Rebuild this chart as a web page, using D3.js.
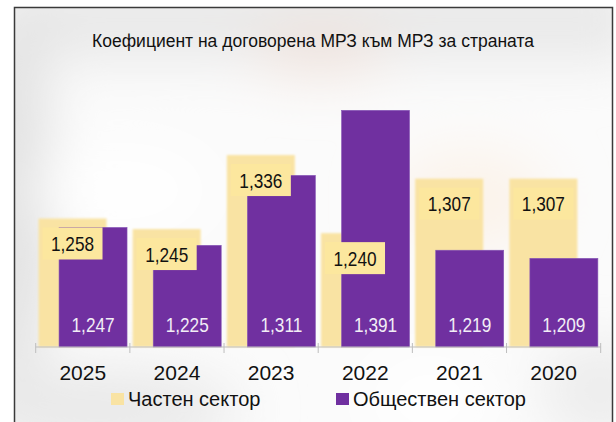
<!DOCTYPE html>
<html>
<head>
<meta charset="utf-8">
<script src="https://d3js.org/d3.v7.min.js"></script>
<style>
  html, body { margin: 0; padding: 0; background: #fff; }
  svg { display: block; }
</style>
</head>
<body>
<div id="chart"></div>
<script>
// chart data
var years = ["2025", "2024", "2023", "2022", "2021", "2020"];
var privateSector = [1258, 1245, 1336, 1240, 1307, 1307];
var publicSector = [1247, 1225, 1311, 1391, 1219, 1209];
var seriesNames = ["Частен сектор", "Обществен сектор"];
var title = "Коефициент на договорена МРЗ към МРЗ за страната";

var W = 616, H = 422;
var yellow = "#f9e3a3", yellowBox = "#fce79e", purple = "#7030a0";

// narrow font check
function hasFont(name) {
    var c = document.createElement("canvas").getContext("2d");
    c.font = "20px monospace";
    var a = c.measureText("1,258 abcdefg").width;
    c.font = "20px '" + name + "', monospace";
    var b = c.measureText("1,258 abcdefg").width;
    return a !== b;
}
var narrowOk = hasFont("Liberation Sans Narrow");
var narrowFamily = narrowOk ? "'Liberation Sans Narrow', 'Arial Narrow', sans-serif" : "'Liberation Sans', Arial, sans-serif";
var narrowScale = narrowOk ? 1 : 0.82;

var svg = d3.select("#chart").append("svg")
    .attr("width", W).attr("height", H);

var defs = svg.append("defs");
var bgBlur = defs.append("filter").attr("id", "bgblur")
    .attr("x", "-50%").attr("y", "-50%").attr("width", "200%").attr("height", "200%");
bgBlur.append("feGaussianBlur").attr("stdDeviation", 28);
var soft = defs.append("filter").attr("id", "soft")
    .attr("x", "-10%").attr("y", "-10%").attr("width", "120%").attr("height", "120%");
soft.append("feGaussianBlur").attr("stdDeviation", 1.3);

var clip = defs.append("clipPath").attr("id", "frameclip");
clip.append("rect").attr("x", 14).attr("y", 7.5).attr("width", 599).attr("height", H);

// blurred photo-like background
var bg = svg.append("g").attr("clip-path", "url(#frameclip)");
bg.append("rect").attr("x", 14).attr("y", 7.5).attr("width", 599).attr("height", H).attr("fill", "#fbfbfb");
var blobs = bg.append("g").attr("filter", "url(#bgblur)");
blobs.append("rect").attr("x", 0).attr("y", -20).attr("width", 640).attr("height", 80).attr("fill", "#e8e8e8");
blobs.append("ellipse").attr("cx", 10).attr("cy", 200).attr("rx", 40).attr("ry", 200).attr("fill", "#e0e0e0");
blobs.append("ellipse").attr("cx", 320).attr("cy", 50).attr("rx", 70).attr("ry", 25).attr("fill", "#efe2dc");
blobs.append("ellipse").attr("cx", 120).attr("cy", 190).attr("rx", 90).attr("ry", 40).attr("fill", "#ffffff");
blobs.append("ellipse").attr("cx", 470).attr("cy", 200).attr("rx", 80).attr("ry", 50).attr("fill", "#fbf3ea");
blobs.append("ellipse").attr("cx", 100).attr("cy", 410).attr("rx", 140).attr("ry", 40).attr("fill", "#e8e8e8");
blobs.append("ellipse").attr("cx", 600).attr("cy", 390).attr("rx", 60).attr("ry", 50).attr("fill", "#ececec");
blobs.append("ellipse").attr("cx", 430).attr("cy", 400).attr("rx", 60).attr("ry", 40).attr("fill", "#ffffff");

// frame
svg.append("path")
    .attr("d", "M14.5," + (H + 2) + "V7.5H612.5V" + (H + 2))
    .attr("fill", "none").attr("stroke", "#3a3a3a").attr("stroke-width", 1.5);

// title
svg.append("text")
    .attr("x", 313).attr("y", 47)
    .attr("text-anchor", "middle")
    .attr("font-family", "'Liberation Sans', Arial, sans-serif")
    .attr("font-size", 17.5).attr("fill", "#111")
    .text(title);

// scales
var x = d3.scaleBand().domain(years).range([35.7, 600.7]).paddingInner(0).paddingOuter(0);
var y = d3.scaleLinear().domain([1100, 1400]).range([347, 103]);
var bw = x.bandwidth();
var barW = bw * 0.722;
var offY = bw * 0.03, offP = bw * 0.248;

var rows = years.map(function(d, i) { return { year: d, priv: privateSector[i], pub: publicSector[i] }; });

// private sector bars (soft edges)
svg.append("g").attr("filter", "url(#soft)")
  .selectAll("rect").data(rows).enter().append("rect")
    .attr("x", function(d) { return x(d.year) + offY; })
    .attr("y", function(d) { return y(d.priv); })
    .attr("width", barW)
    .attr("height", function(d) { return y(1100) - y(d.priv); })
    .attr("fill", yellow);

// public sector bars
svg.append("g").selectAll("rect").data(rows).enter().append("rect")
    .attr("x", function(d) { return x(d.year) + offP; })
    .attr("y", function(d) { return y(d.pub); })
    .attr("width", barW)
    .attr("height", function(d) { return y(1100) - y(d.pub); })
    .attr("fill", purple)
    .attr("stroke", "#8656b6").attr("stroke-width", 0.6);

// axis
var axis = svg.append("g").attr("transform", "translate(0," + y(1100) + ")");
axis.append("line").attr("x1", x.range()[0]).attr("x2", x.range()[1])
    .attr("stroke", "#bdbdbd").attr("stroke-width", 1);
var bounds = years.map(function(d) { return x(d); }).concat([x.range()[1]]);
axis.selectAll("line.tick").data(bounds).enter().append("line")
    .attr("class", "tick")
    .attr("x1", function(d) { return d; }).attr("x2", function(d) { return d; })
    .attr("y1", -4).attr("y2", 6)
    .attr("stroke", "#bdbdbd").attr("stroke-width", 1);
var xAxis = d3.axisBottom(x).tickSize(0).tickPadding(0);
var ax = svg.append("g").attr("transform", "translate(0,380)").call(xAxis);
ax.select(".domain").remove();
ax.selectAll("text")
    .attr("dy", 0).attr("y", 0)
    .attr("font-family", "'Liberation Sans', Arial, sans-serif")
    .attr("font-size", 21).attr("fill", "#111");

// private labels with boxes
var pl = svg.append("g").selectAll("g").data(rows).enter().append("g")
    .attr("transform", function(d) {
        return "translate(" + (x(d.year) + offY + barW / 2) + "," + (y(d.priv) + 25) + ")";
    });
pl.append("rect").attr("x", -30).attr("y", -16).attr("width", 60).attr("height", 32)
    .attr("fill", yellowBox);
pl.append("text")
    .attr("text-anchor", "middle").attr("y", 7.5)
    .attr("transform", "scale(" + narrowScale + ",1)")
    .attr("font-family", narrowFamily).attr("font-size", 21).attr("fill", "#111")
    .text(function(d) { return d3.format(",")(d.priv); });

// public labels at the base
svg.append("g").selectAll("text").data(rows).enter().append("text")
    .attr("text-anchor", "middle")
    .attr("transform", function(d) {
        return "translate(" + (x(d.year) + offP + barW / 2) + ",332) scale(" + narrowScale + ",1)";
    })
    .attr("font-family", narrowFamily).attr("font-size", 21).attr("fill", "#f2eef6")
    .text(function(d) { return d3.format(",")(d.pub); });

// legend
var legend = svg.append("g");
var legendItems = [
    { name: seriesNames[0], color: yellow, sx: 111, tx: 128 },
    { name: seriesNames[1], color: purple, sx: 336, tx: 353 }
];
legend.selectAll("rect").data(legendItems).enter().append("rect")
    .attr("x", function(d) { return d.sx; }).attr("y", 393)
    .attr("width", 13).attr("height", 12)
    .attr("fill", function(d) { return d.color; });
legend.selectAll("text").data(legendItems).enter().append("text")
    .attr("x", function(d) { return d.tx; }).attr("y", 406)
    .attr("font-family", "'Liberation Sans', Arial, sans-serif")
    .attr("font-size", 20).attr("fill", "#111")
    .text(function(d) { return d.name; });
</script>
</body>
</html>
